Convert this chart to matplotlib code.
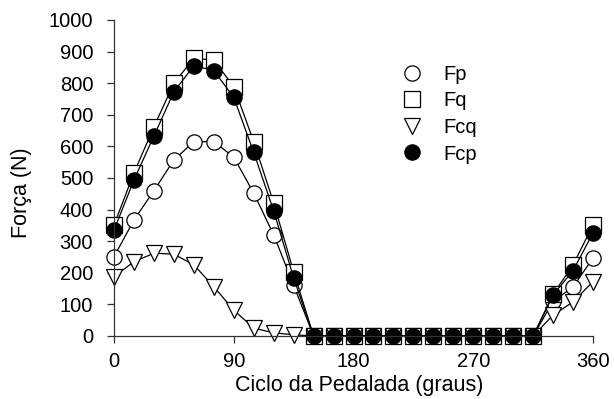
import matplotlib
matplotlib.use("Agg")
import matplotlib.pyplot as plt

plt.rcParams['font.family'] = ['Liberation Sans', 'DejaVu Sans']

# pedal cycle angle (degrees), every 15 degrees
angle = [0, 15, 30, 45, 60, 75, 90, 105, 120, 135, 150, 165, 180, 195, 210,
         225, 240, 255, 270, 285, 300, 315, 330, 345, 360]

fp = [251, 367, 460, 557, 615, 615, 566, 452, 320, 161, 0, 0, 0, 0, 0,
      0, 0, 0, 0, 0, 0, 0, 110, 155, 247]
fq = [351, 516, 662, 800, 879, 873, 789, 615, 421, 203, 0, 0, 0, 0, 0,
      0, 0, 0, 0, 0, 0, 0, 132, 225, 351]
fcq = [188, 235, 262, 259, 225, 156, 82, 25, 10, 4, 0, 0, 0, 0, 0,
       0, 0, 0, 0, 0, 0, 0, 66, 108, 172]
fcp = [335, 494, 633, 773, 855, 840, 755, 581, 396, 184, 0, 0, 0, 0, 0,
       0, 0, 0, 0, 0, 0, 0, 130, 207, 326]

fig = plt.figure(figsize=(6.14, 3.99), dpi=100)
ax = fig.add_axes([0.1857, 0.1579, 0.7801, 0.792])

common = dict(color='black', lw=0.9, mec='black', mew=0.9, clip_on=False)
ax.plot(angle, fp, marker='o', ms=11, mfc='white', label='Fp', **common)
ax.plot(angle, fq, marker='s', ms=11, mfc='white', label='Fq', **common)
ax.plot(angle, fcq, marker='v', ms=11, mfc='white', label='Fcq', **common)
ax.plot(angle, fcp, marker='o', ms=11, mfc='black', label='Fcp', **common)

ax.set_xlim(0, 360)
ax.set_ylim(0, 1000)
ax.set_xticks([0, 90, 180, 270, 360])
ax.set_yticks(range(0, 1001, 100))
ax.spines['top'].set_visible(False)
ax.spines['right'].set_visible(False)
for s in ['left', 'bottom']:
    ax.spines[s].set_linewidth(0.9)
    ax.spines[s].set_color('#333333')
ax.tick_params(axis='both', direction='out', length=5, width=0.9,
               labelsize=14.5, color='#333333')
ax.tick_params(axis='x', pad=6.5)
ax.tick_params(axis='y', pad=10)
ax.set_xlabel('Ciclo da Pedalada (graus)', fontsize=15.5)
ax.set_ylabel('Força (N)', fontsize=15.5)
ax.xaxis.set_label_coords(0.5125, -0.1234)
ax.yaxis.set_label_coords(-0.171, 0.4525)

ax.legend(loc='upper left', bbox_to_anchor=(0.6547, 0.8634),
          bbox_transform=fig.transFigure, frameon=False, handlelength=0,
          numpoints=1, fontsize=14.5, labelspacing=0.38, handletextpad=1.54,
          borderpad=0)

fig.savefig('out.png', dpi=100)
